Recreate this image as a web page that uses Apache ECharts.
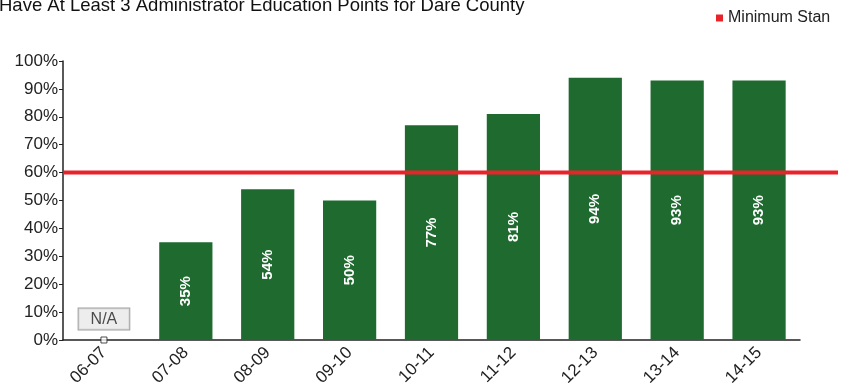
<!DOCTYPE html>
<html>
<head>
<meta charset="utf-8">
<script src="https://cdn.jsdelivr.net/npm/echarts@6/dist/echarts.min.js"></script>
<style>html,body{margin:0;padding:0;background:#fff}#c{width:854px;height:392px}</style>
</head>
<body>
<div id="c"></div>
<script>
var titleText = 'Have At Least 3 Administrator Education Points for Dare County';
var categories = ['06-07','07-08','08-09','09-10','10-11','11-12','12-13','13-14','14-15'];
var values = [null, 35, 54, 50, 77, 81, 94, 93, 93];
var naPoints = [['06-07', 0]];
var naText = 'N/A';
var standardName = 'Minimum Standard';
var standardValue = 60;
var yTicks = [0,10,20,30,40,50,60,70,80,90,100];

var chart = echarts.init(document.getElementById('c'));
var font = 'Liberation Sans, Arial, sans-serif';
chart.setOption({
  animation: false,
  backgroundColor: '#fff',
  title: {
    text: titleText, left: -6, top: -9,
    textStyle: {fontFamily: font, fontSize: 18.5, fontWeight: 'normal', color: '#111'}
  },
  legend: {
    left: 711, top: 5, itemWidth: 7, itemHeight: 7, itemGap: 4,
    textStyle: {fontFamily: font, fontSize: 16, color: '#222', width: 109, overflow: 'truncate', ellipsis: ''},
    data: [{name: standardName, icon: 'rect'}]
  },
  grid: [
    {left: 63, right: 54, top: 61, bottom: 52},
    {left: 64, right: 16, top: 61, bottom: 52}
  ],
  xAxis: [{
    type: 'category', data: categories, gridIndex: 0,
    axisLine: {lineStyle: {color: '#222', width: 1.5}},
    axisTick: {alignWithLabel: true, length: 3, lineStyle: {color: '#222'}},
    axisLabel: {rotate: 45, fontFamily: font, fontSize: 17, color: '#222', margin: 10}
  }, {
    type: 'value', gridIndex: 1, min: 0, max: 1, show: false
  }],
  yAxis: [{
    type: 'value', gridIndex: 0, min: yTicks[0], max: yTicks[yTicks.length-1], interval: 10,
    axisLine: {show: true, lineStyle: {color: '#222', width: 1.5}},
    axisTick: {show: true, inside: false, length: 4, lineStyle: {color: '#222'}},
    splitLine: {show: false},
    axisLabel: {formatter: '{value}%', fontFamily: font, fontSize: 17, color: '#222', margin: 5}
  }, {
    type: 'value', gridIndex: 1, min: 0, max: 100, show: false
  }],
  series: [{
    type: 'bar', name: 'Percent', data: values, xAxisIndex: 0, yAxisIndex: 0,
    barWidth: '65%',
    itemStyle: {color: '#1e6a2f'},
    label: {
      show: true, position: 'inside', rotate: 90, formatter: '{c}%',
      fontFamily: font, fontSize: 15, fontWeight: 'bold', color: '#fff'
    },
    z: 2
  }, {
    type: 'scatter', name: 'NA', data: naPoints, xAxisIndex: 0, yAxisIndex: 0,
    symbol: 'rect', symbolSize: 6,
    itemStyle: {color: '#fff', borderColor: '#222', borderWidth: 1},
    label: {
      show: true, position: 'top', distance: 7, formatter: naText,
      fontFamily: font, fontSize: 16, color: '#222',
      backgroundColor: '#e9e9e9', borderColor: '#888', borderWidth: 1,
      padding: [3, 12, 2, 12]
    },
    z: 5
  }, {
    type: 'line', name: standardName, xAxisIndex: 1, yAxisIndex: 1,
    data: [[0, standardValue], [1, standardValue]],
    symbol: 'none', color: '#e8242a',
    lineStyle: {color: '#e8242a', width: 4},
    z: 4
  }]
});
</script>
</body>
</html>
